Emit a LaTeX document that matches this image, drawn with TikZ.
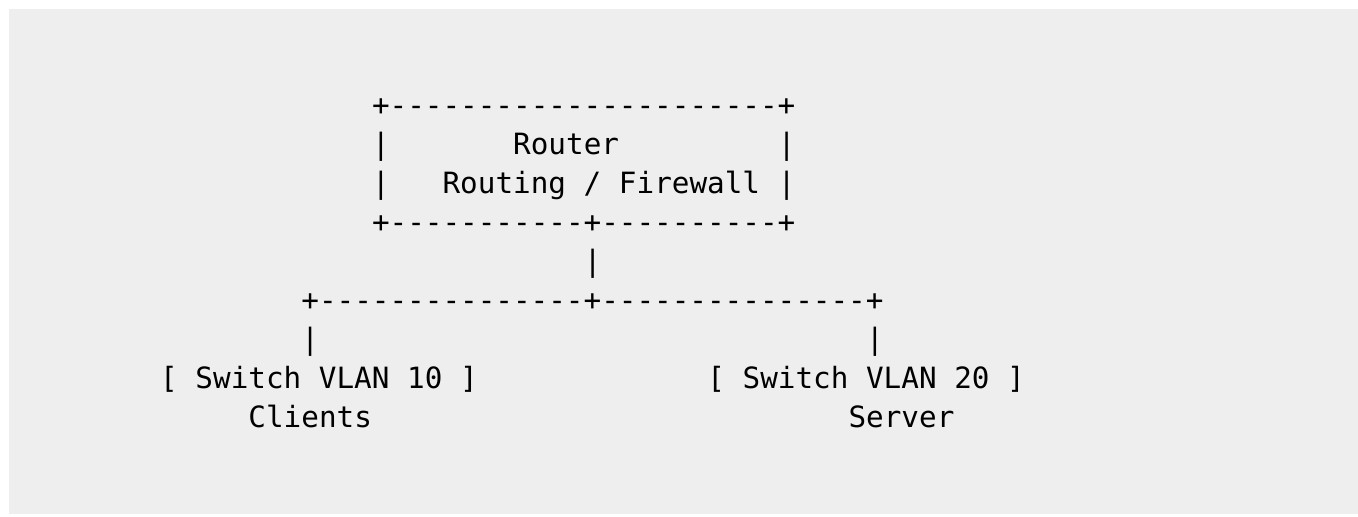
\documentclass[tikz,border=0pt]{standalone}
\usepackage{fontspec}
\setmonofont{DejaVu Sans Mono}
\definecolor{fondo}{HTML}{EEEEEE}
\tikzset{
  linea/.style={anchor=base west, inner sep=0pt, outer sep=0pt,
    font=\ttfamily\fontsize{14.65}{17}\selectfont, text=black}
}
% guiones sin ligaduras
\newcommand{\guiones}[1]{\foreach \i in {1,...,#1}{-{}}}

\begin{document}
\begin{tikzpicture}[x=0.5pt,y=-0.5pt]

        % Ancho de columna y origen (en pixeles)
        \pgfmathsetmacro{\colw}{17.65}
        \pgfmathsetmacro{\xcero}{160.2}

        % Fondo gris con margen blanco
        \fill[white] (0,0) rectangle (1358,517);
        \fill[fondo] (9,9) rectangle (1358,514);

        % Caja del router
        \node[linea] (routertop) at ({\xcero+12*\colw},116) {+\guiones{22}+};
        \node[linea] (routerl1) at ({\xcero+12*\colw},155) {|};
        \node[linea] (routername) at ({\xcero+20*\colw},155) {Router};
        \node[linea] (routerr1) at ({\xcero+35*\colw},155) {|};
        \node[linea] (routerl2) at ({\xcero+12*\colw},194) {|};
        \node[linea] (routerfw) at ({\xcero+16*\colw},194) {Routing / Firewall};
        \node[linea] (routerr2) at ({\xcero+35*\colw},194) {|};
        \node[linea] (routerbot) at ({\xcero+12*\colw},233) {+\guiones{11}+\guiones{10}+};

        % Enlace hacia abajo y reparto
        \node[linea] (uplink) at ({\xcero+24*\colw},272) {|};
        \node[linea] (reparto) at ({\xcero+8*\colw},311) {+\guiones{15}+\guiones{15}+};
        \node[linea] (bajada10) at ({\xcero+8*\colw},350) {|};
        \node[linea] (bajada20) at ({\xcero+40*\colw},350) {|};

        % Switches
        \node[linea] (switch10) at ({\xcero},389) {[ Switch VLAN 10 ]};
        \node[linea] (switch20) at ({\xcero+31*\colw},389) {[ Switch VLAN 20 ]};
        \node[linea] (clients) at ({\xcero+5*\colw},428) {Clients};
        \node[linea] (server) at ({\xcero+39*\colw},428) {Server};

    \end{tikzpicture}
\end{document}
